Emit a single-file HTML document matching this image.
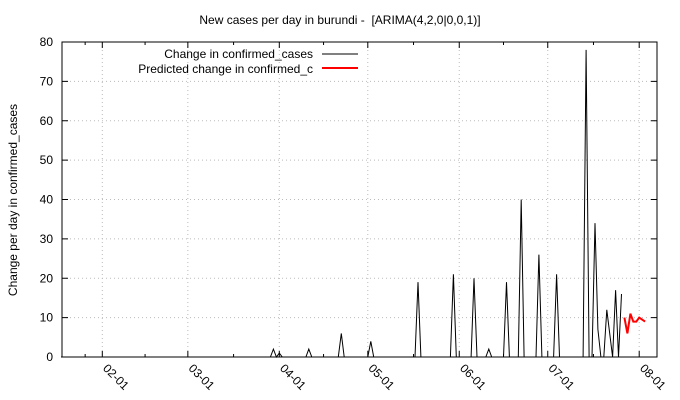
<!DOCTYPE html>
<html><head><meta charset="utf-8"><style>
html,body{margin:0;padding:0;background:#fff;}
svg{display:block;font-family:"Liberation Sans",sans-serif;}
</style></head><body>
<svg id="c" width="680" height="400">
<text x="340" y="24" text-anchor="middle" font-size="12">New cases per day in burundi -&#160; [ARIMA(4,2,0|0,0,1)]</text>
<text transform="translate(17,200) rotate(-90)" text-anchor="middle" font-size="12">Change per day in confirmed_cases</text>
<g id="grid"></g>
<g id="axes"></g>
<g id="series"></g>
<g>
<text x="313" y="58" text-anchor="end" font-size="12">Change in confirmed_cases</text>
<line x1="322" y1="54" x2="358" y2="54" stroke="#000" stroke-width="1"/>
<text x="313" y="73" text-anchor="end" font-size="12">Predicted change in confirmed_c</text>
<line x1="322" y1="68" x2="358" y2="68" stroke="#f00" stroke-width="2"/>
</g>
</svg>
<script>
// day index 0 = Feb 1
const spikeDays = [58,60,70,81,91,107,119,126,131,137,142,148,154,164,167,168,171,172,174,176];
const spikeVals = [2,1,2,6,4,19,21,20,2,19,40,26,21,78,34,7,12,6,17,16];
const actualStart = -14, actualEnd = 176;
const predDays = [177,178,179,180,181,182,183,184];
const predVals = [10,6,11,9,9,10,9.5,9];
const yTicks = [0,10,20,30,40,50,60,70,80];
const xTickDays = [0,29,60,90,121,151,182];
const xTickLabels = ["02-01","03-01","04-01","05-01","06-01","07-01","08-01"];

const L=62,R=657,T=42,B=357;
const xs=d=>102.3+2.95*d;
const ys=v=>B-(v/80)*(B-T);
const NS="http://www.w3.org/2000/svg";
function mk(tag,parent,attrs){const e=document.createElementNS(NS,tag);for(const k in attrs)e.setAttribute(k,attrs[k]);parent.appendChild(e);return e;}
const grid=document.getElementById('grid'),axes=document.getElementById('axes'),series=document.getElementById('series');

yTicks.forEach((v,i)=>{
  const y=ys(v);
  if(v>0&&v<80){const g=mk('line',grid,{x1:L,x2:R,y1:y,y2:y,stroke:'#bbb','stroke-dasharray':'1,3','stroke-width':1});
  
  }
  const t1=mk('line',axes,{x1:L,x2:L+6,y1:y,y2:y,stroke:'#000'});
  
  
  const t2=mk('line',axes,{x1:R-6,x2:R,y1:y,y2:y,stroke:'#000'});
  
  
  const tx=mk('text',axes,{x:53,y:y+4,'text-anchor':'end','font-size':12});
  tx.textContent=v;
  
  
});
xTickDays.forEach((d,i)=>{
  const x=xs(d);
  const g=mk('line',grid,{x1:x,x2:x,y1:T,y2:B,stroke:'#bbb','stroke-dasharray':'1,3','stroke-width':1});
  
  
  [[B,B-6],[T,T+6]].forEach(p=>{const t=mk('line',axes,{x1:x,x2:x,y1:p[0],y2:p[1],stroke:'#000'});
  
  });
  if(i<xTickDays.length-1){const xm=(x+xs(xTickDays[i+1]))/2;
    [[B,B-3],[T,T+3]].forEach(p=>{const t=mk('line',axes,{x1:xm,x2:xm,y1:p[0],y2:p[1],stroke:'#000'});
    
    });}
  const tx=mk('text',axes,{transform:`translate(${x},${B+12}) rotate(45)`,'font-size':12});
  tx.textContent=xTickLabels[i];
  
  
});
{const xm=(xs(0)+L)/2+3;[[B,B-3],[T,T+3]].forEach(p=>{const t=mk('line',axes,{x1:xm,x2:xm,y1:p[0],y2:p[1],stroke:'#000'});

});}
const frame=mk('rect',axes,{x:L,y:T,width:R-L,height:B-T,fill:'none',stroke:'#000'});



const vals={};spikeDays.forEach((d,i)=>vals[d]=spikeVals[i]);
let pts=[];
for(let d=actualStart;d<=actualEnd;d++){pts.push(xs(d).toFixed(1)+','+ys(vals[d]||0).toFixed(1));}
const a=mk('polyline',series,{points:pts.join(' '),fill:'none',stroke:'#000','stroke-width':1});


const pp=predDays.map((d,i)=>xs(d).toFixed(1)+','+ys(predVals[i]).toFixed(1));
const p=mk('polyline',series,{points:pp.join(' '),fill:'none',stroke:'#f00','stroke-width':2});


</script>
</body></html>
